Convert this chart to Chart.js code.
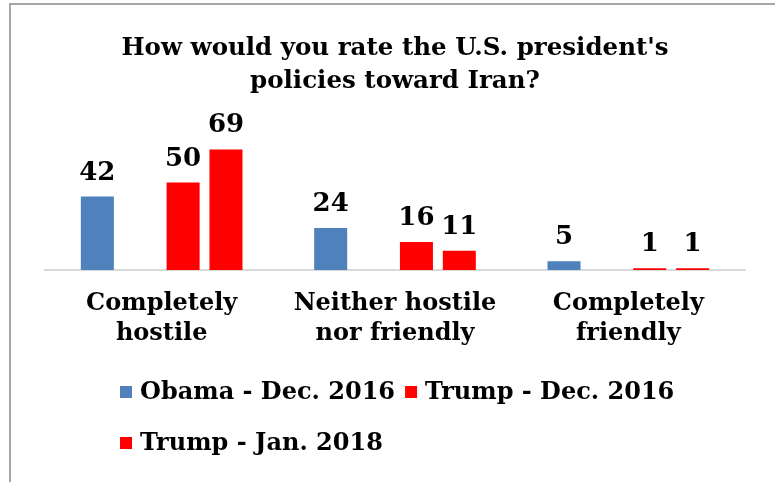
<!DOCTYPE html>
<html>
<head>
<meta charset="utf-8">
<script src="https://cdn.jsdelivr.net/npm/chart.js@4.4.1/dist/chart.umd.min.js"></script>
<style>
  html, body { margin: 0; padding: 0; background: #fff; }
  #wrap { position: relative; width: 775px; height: 482px; }
</style>
</head>
<body>
<div id="wrap"><canvas id="barChart" width="775" height="482"></canvas></div>
<script>
const categories = [['Completely', 'hostile'], ['Neither hostile', 'nor friendly'], ['Completely', 'friendly']];
const obamaDec2016 = [42, 24, 5];
const trumpDec2016 = [50, 16, 1];
const trumpJan2018 = [69, 11, 1];
const emptySlot = [null, null, null];

const seriesNames = ['Obama - Dec. 2016', '', 'Trump - Dec. 2016', 'Trump - Jan. 2018'];
const seriesColors = ['#4f81bd', 'rgba(0,0,0,0)', '#ff0000', '#ff0000'];

const serif = "'DejaVu Serif', 'Liberation Serif', serif";

// gray frame along top and left edge
const frame = {
  id: 'frame',
  beforeDraw(chart) {
    const c = chart.ctx;
    c.save();
    c.fillStyle = '#ffffff';
    c.fillRect(0, 0, chart.width, chart.height);
    c.strokeStyle = '#a6a6a6';
    c.lineWidth = 2;
    c.beginPath();
    c.moveTo(10, chart.height);
    c.lineTo(10, 4);
    c.lineTo(chart.width, 4);
    c.stroke();
    c.restore();
  }
};

// value numbers above each bar
const valueLabels = {
  id: 'valueLabels',
  afterDatasetsDraw(chart) {
    const c = chart.ctx;
    c.save();
    c.font = "bold 26px " + serif;
    c.fillStyle = '#000';
    c.textAlign = 'center';
    c.textBaseline = 'alphabetic';
    chart.data.datasets.forEach((ds, i) => {
      chart.getDatasetMeta(i).data.forEach((bar, j) => {
        const v = ds.data[j];
        if (v == null) return;
        c.fillText(String(v), bar.x, bar.y - 17);
      });
    });
    c.restore();
  }
};

// legend rows, left aligned
const legendRows = {
  id: 'legendRows',
  afterDraw(chart) {
    const c = chart.ctx;
    c.save();
    c.font = "bold 24px " + serif;
    c.textBaseline = 'middle';
    c.fillStyle = '#000';
    const left = 120, right = 700, box = 12;
    let x = left, y = 392;
    chart.data.datasets.forEach((ds) => {
      if (!ds.label) return;
      const w = box + 8 + c.measureText(ds.label).width;
      if (x + w > right) { x = left; y += 51; }
      c.fillStyle = ds.backgroundColor;
      c.fillRect(x, y - box / 2, box, box);
      c.fillStyle = '#000';
      c.fillText(ds.label, x + box + 8, y + 1);
      x += w + 10;
    });
    c.restore();
  }
};

const seriesData = [obamaDec2016, emptySlot, trumpDec2016, trumpJan2018];

new Chart(document.getElementById('barChart'), {
  type: 'bar',
  data: {
    labels: categories,
    datasets: seriesData.map((d, i) => ({
      label: seriesNames[i],
      data: d,
      backgroundColor: seriesColors[i],
      categoryPercentage: 0.735,
      barPercentage: 0.77
    }))
  },
  options: {
    responsive: false,
    animation: false,
    layout: { padding: { top: 9, left: 45, right: 30, bottom: 122 } },
    scales: {
      x: {
        grid: { display: false },
        border: { color: '#d9d9d9', width: 2 },
        ticks: {
          color: '#000',
          padding: 11,
          font: { family: serif, size: 24, weight: 'bold', lineHeight: 1.25 }
        }
      },
      y: {
        display: false,
        min: 0,
        max: 80
      }
    },
    plugins: {
      legend: { display: false },
      tooltip: { enabled: false },
      title: {
        display: true,
        text: ["How would you rate the U.S. president's", 'policies toward Iran?'],
        color: '#000',
        padding: { top: 23, bottom: 32 },
        font: { family: serif, size: 24.5, weight: 'bold', lineHeight: 1.35 }
      }
    }
  },
  plugins: [frame, valueLabels, legendRows]
});
</script>
</body>
</html>
